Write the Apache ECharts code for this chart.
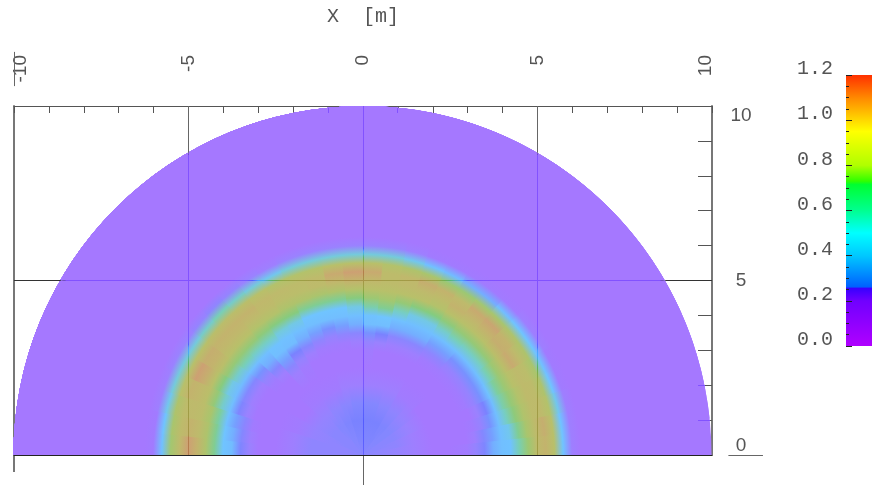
<!DOCTYPE html>
<html><head><meta charset="utf-8">
<style>html,body{margin:0;padding:0;background:#fff}#c{width:872px;height:486px}</style>
<script src="https://cdn.jsdelivr.net/npm/echarts@6/dist/echarts.min.js"></script>
</head><body><div id="c"></div>
<script>
// ---- data ----
const radii = [0,.5,1,1.5,2,2.5,3,3.25,3.5,3.75,4,4.25,4.5,4.75,5,5.25,5.5,5.75,6,6.25];
const wedgeAngles = [3,9,15,21,27,33,39,45,51,57,63,69,75,81,87,93,99,105,111,117,123,129,135,141,147,153,159,165,171,177];
const wedgeHalfWidth = 3;
const fieldRows = [
 [.26,.25,.24,.22,.20,.20,.21,.24,.28,.32,.35,.37,.47,.62,.78,.84,.72,.38,.22,.20],
 [.26,.25,.24,.22,.20,.20,.20,.22,.27,.31,.35,.40,.52,.66,.78,.86,.72,.38,.22,.20],
 [.26,.25,.25,.22,.20,.20,.20,.21,.24,.30,.34,.45,.58,.69,.78,.80,.70,.40,.22,.20],
 [.26,.26,.25,.22,.20,.20,.20,.20,.23,.29,.34,.48,.60,.70,.79,.78,.68,.38,.21,.20],
 [.26,.26,.26,.23,.20,.20,.20,.21,.24,.30,.36,.50,.62,.72,.80,.76,.66,.36,.21,.20],
 [.26,.26,.26,.23,.20,.20,.20,.21,.24,.30,.35,.47,.62,.74,.88,.80,.68,.38,.22,.20],
 [.26,.27,.27,.24,.20,.20,.20,.21,.24,.30,.34,.45,.60,.74,.86,.84,.68,.38,.22,.20],
 [.26,.27,.27,.24,.21,.20,.20,.21,.24,.30,.34,.45,.60,.72,.84,.90,.66,.34,.21,.20],
 [.26,.27,.28,.25,.21,.20,.20,.21,.25,.31,.35,.46,.60,.72,.83,.88,.64,.32,.21,.20],
 [.26,.28,.28,.25,.21,.20,.20,.21,.25,.31,.35,.44,.58,.72,.84,.80,.62,.32,.21,.20],
 [.26,.28,.29,.26,.22,.20,.20,.22,.26,.32,.35,.41,.55,.70,.78,.84,.62,.33,.21,.20],
 [.26,.28,.29,.26,.22,.20,.20,.22,.26,.32,.35,.41,.56,.72,.80,.86,.66,.36,.21,.20],
 [.26,.28,.29,.27,.22,.20,.20,.22,.26,.32,.36,.45,.60,.72,.80,.82,.68,.40,.22,.20],
 [.26,.28,.29,.27,.22,.20,.20,.23,.29,.34,.38,.52,.64,.72,.78,.78,.70,.42,.23,.20],
 [.26,.28,.29,.27,.22,.20,.21,.24,.30,.34,.37,.48,.62,.72,.82,.88,.72,.42,.23,.20],
 [.26,.28,.29,.27,.22,.20,.20,.22,.26,.32,.35,.41,.56,.70,.84,.92,.72,.42,.23,.20],
 [.26,.28,.29,.27,.22,.20,.20,.21,.25,.31,.34,.38,.52,.68,.82,.88,.72,.42,.23,.20],
 [.26,.28,.29,.26,.22,.20,.20,.21,.24,.30,.34,.38,.52,.67,.78,.80,.70,.42,.23,.20],
 [.26,.27,.28,.26,.21,.20,.20,.21,.25,.31,.34,.38,.52,.68,.76,.78,.70,.42,.23,.20],
 [.26,.27,.28,.25,.21,.20,.20,.22,.27,.32,.35,.41,.56,.68,.76,.80,.70,.40,.22,.20],
 [.26,.27,.27,.25,.21,.20,.21,.24,.29,.33,.36,.42,.56,.70,.78,.82,.72,.42,.23,.20],
 [.26,.26,.27,.24,.21,.20,.22,.26,.31,.34,.37,.45,.58,.70,.80,.84,.74,.44,.24,.20],
 [.26,.26,.26,.24,.21,.20,.20,.22,.27,.32,.35,.45,.60,.72,.82,.84,.76,.46,.25,.20],
 [.26,.26,.26,.24,.20,.20,.20,.21,.24,.30,.34,.46,.60,.72,.82,.84,.74,.44,.24,.20],
 [.26,.26,.26,.24,.20,.20,.20,.20,.22,.27,.33,.44,.60,.74,.84,.86,.72,.42,.23,.20],
 [.26,.26,.25,.24,.21,.20,.20,.20,.22,.27,.33,.41,.56,.72,.86,.92,.72,.42,.23,.20],
 [.26,.25,.25,.24,.21,.20,.20,.20,.23,.28,.34,.44,.60,.74,.82,.84,.72,.42,.22,.20],
 [.26,.25,.25,.25,.22,.20,.20,.21,.26,.31,.36,.50,.66,.76,.80,.78,.68,.40,.22,.20],
 [.26,.25,.25,.25,.22,.20,.20,.22,.27,.32,.38,.52,.68,.80,.84,.78,.66,.38,.21,.20],
 [.26,.25,.25,.25,.22,.20,.20,.23,.28,.33,.38,.52,.68,.84,.92,.80,.64,.36,.21,.20]
];
const discRadius = 10;
const minorXs = [-9,-8,-7,-6,-4,-3,-2,-1,1,2,3,4,6,7,8,9];
const minorYs = [1,2,3,4,6,7,8,9];
const barMax = 1.2;
// value -> shade of the disc as it looks in the picture
const discScale = [[.20,[165,120,255]],[.23,[154,130,255]],[.27,[132,135,255]],[.29,[122,130,255]],[.33,[114,188,255]],[.38,[112,196,255]],[.46,[120,207,184]],[.55,[132,204,128]],[.65,[166,198,110]],[.72,[184,192,106]],[.82,[192,184,108]],[.92,[205,160,115]]];
// colour bar, as drawn
const barStops = [[0,'#b000ff'],[.2,'#7000ff'],[.255,'#3800ff'],[.262,'#0060ff'],[.4,'#00c8ff'],[.5,'#00ffff'],[.6,'#00ff90'],[.715,'#00ff30'],[.73,'#30ff00'],[.8,'#b0ff00'],[.95,'#ffff00'],[1,'#ffd800'],[1.1,'#ff8800'],[1.2,'#ff3000']];

const mono = 'Liberation Mono', sans = 'Liberation Sans', ink = '#555';
function shadeRGB(v){
  const s = discScale;
  if (v <= s[0][0]) return s[0][1];
  for (let i=1;i<s.length;i++) if (v <= s[i][0]) {
    const t=(v-s[i-1][0])/(s[i][0]-s[i-1][0]);
    return s[i][1].map((c,k)=>Math.round(s[i-1][1][k]+(c-s[i-1][1][k])*t));
  }
  return s[s.length-1][1];
}
const shade = v => `rgb(${shadeRGB(v)})`;
// colour a grid line takes where it runs under the disc
function lineShade(x,y){
  const r=Math.hypot(x,y);
  if (r>discRadius) return 'rgba(0,0,0,0)';
  const row=fieldRows[Math.max(0,Math.min(wedgeAngles.length-1,Math.floor(Math.atan2(y,x)*180/Math.PI/(2*wedgeHalfWidth))))];
  let v=row[radii.length-1];
  for(let k=1;k<radii.length;k++) if(r<=radii[k]){v=row[k-1]+(row[k]-row[k-1])*(r-radii[k-1])/(radii[k]-radii[k-1]);break;}
  return `rgb(${shadeRGB(v).map(c=>{const b=c/255;return Math.round(255*(b-.6*b*(1-b)));})})`;
}
const segments = [];
[-5,0,5].forEach(x=>segments.push([x,0,x,10]));
segments.push([-10,5,10,5]);
minorXs.forEach(x=>segments.push([x,9.8,x,10]));
minorYs.forEach(y=>segments.push([9.6,y,10,y]));
const stubs = [[-10,0,-10,-.49,'#777',2],[0,0,0,-.86,'#666',1],[-10,10.57,-10,11.55,'#666',1],[10.47,0,11.46,0,'#666',1],
  [-5,8.66,-5,10,'#666',1],[5,8.66,5,10,'#666',1],[-10,5,-8.66,5,'#333',1],[8.66,5,10,5,'#333',1]];
const snap = p => Math.floor(p)+.5;
const segRender = (params,api)=>{
  const v=[0,1,2,3].map(k=>api.value(k));
  const a=api.coord([v[0],v[1]]), b=api.coord([v[2],v[3]]);
  const i=params.dataIndex;
  let st;
  if (params.seriesName==='stubs') {
    st={stroke:stubs[i][4],lineWidth:stubs[i][5],fill:null};
    if (stubs[i][5]!==1) return {type:'line',shape:{x1:a[0],y1:a[1],x2:b[0],y2:b[1]},style:st,silent:true};
  } else {
    const n=120,stops=[];
    for(let t=0;t<=n;t++) stops.push({offset:t/n,color:lineShade(v[0]+(v[2]-v[0])*t/n,v[1]+(v[3]-v[1])*t/n)});
    st={stroke:new echarts.graphic.LinearGradient(a[0],a[1],b[0],b[1],stops,true),lineWidth:1,fill:null};
  }
  const vertical=v[0]===v[2];
  const shape=vertical?{x1:snap(a[0]),y1:a[1],x2:snap(b[0]),y2:b[1]}:{x1:a[0],y1:snap(a[1]),x2:b[0],y2:snap(b[1])};
  return {type:'line',shape,style:st,silent:true};
};
const option = {
  animation:false,
  polar:{center:[362.5,455],radius:349},
  angleAxis:{type:'value',min:0,max:360,startAngle:0,clockwise:false,show:false},
  radiusAxis:{type:'value',min:0,max:discRadius,show:false},
  grid:[{left:14,width:698,top:106,height:349,outerBoundsMode:'none'},{left:846,width:26,top:75,height:271,outerBoundsMode:'none'}],
  xAxis:[
   {gridIndex:0,type:'value',position:'top',min:-10,max:10,interval:5,
    name:'X  [m]',nameLocation:'middle',nameGap:79,nameTextStyle:{fontFamily:mono,fontSize:20,color:ink},
    axisLine:{show:true,onZero:false,lineStyle:{color:'#555',width:1}},
    axisTick:{show:true,inside:true,length:7,lineStyle:{color:'#555'}},
    minorTick:{show:true,splitNumber:5,length:7,lineStyle:{color:'#555'}},
    splitLine:{show:false},
    axisLabel:{show:true,rotate:-90,align:'right',verticalAlign:'middle',margin:51,fontFamily:sans,fontSize:19,color:ink,hideOverlap:false,
      showMinLabel:true,showMaxLabel:true,
      rich:{a:{fontFamily:sans,fontSize:19,color:ink,padding:[0,0,12,0]},b:{fontFamily:sans,fontSize:19,color:ink,padding:[14,0,0,0]}},
      formatter:v=>v===10?'{a|10}':v===-10?'{b|-10}':String(v)}},
   {gridIndex:0,type:'value',position:'bottom',min:-10,max:10,interval:5,z:10,
    axisLine:{show:true,onZero:false,lineStyle:{color:'#222',width:1}},axisTick:{show:false},axisLabel:{show:false},splitLine:{show:false}},
   {gridIndex:1,type:'category',data:[''],show:false}
  ],
  yAxis:[
   {gridIndex:0,type:'value',position:'right',min:0,max:10,interval:5,
    axisLine:{show:true,onZero:false,lineStyle:{color:'#777',width:2}},
    axisTick:{show:true,inside:true,length:14,lineStyle:{color:'#555'}},
    minorTick:{show:true,splitNumber:5,length:14,lineStyle:{color:'#555'}},
    splitLine:{show:false},
    axisLabel:{show:true,align:'center',margin:29,fontFamily:sans,fontSize:19,color:ink,verticalAlignMaxLabel:'top',verticalAlignMinLabel:'bottom'}},
   {gridIndex:0,type:'value',position:'left',min:0,max:10,interval:5,
    axisLine:{show:true,onZero:false,lineStyle:{color:'#777',width:2}},axisTick:{show:false},axisLabel:{show:false},splitLine:{show:false}},
   {gridIndex:1,type:'value',position:'left',min:0,max:barMax,interval:.2,z:10,
    axisLine:{show:false},
    axisTick:{show:true,inside:true,length:6,lineStyle:{color:'#222'}},
    minorTick:{show:true,splitNumber:4,length:3,lineStyle:{color:'#222'}},
    splitLine:{show:false},
    axisLabel:{show:true,margin:13,fontFamily:mono,fontSize:20,color:ink,verticalAlign:'bottom',lineHeight:12,formatter:v=>v.toFixed(1)}}
  ],
  series:[
   {type:'custom',name:'disc',coordinateSystem:'polar',z:3,silent:true,clip:false,
    data:wedgeAngles.map(a=>[discRadius,a]),encode:{radius:0,angle:1},
    renderItem:(params,api)=>{
      const i=params.dataIndex,a=wedgeAngles[i];
      const c=api.coord([0,0]),e=api.coord([discRadius,0]);
      const R=Math.hypot(e[0]-c[0],e[1]-c[1]);
      const stops=radii.map((r,k)=>({offset:r/discRadius,color:shade(fieldRows[i][k])}));
      stops.push({offset:1,color:shade(fieldRows[i][radii.length-1])});
      // every wedge runs on to the far end; the next one paints over it, so no seams show
      const a1=(a-wedgeHalfWidth)*Math.PI/180,a2=Math.PI;
      return {type:'sector',shape:{cx:c[0],cy:c[1],r0:0,r:R,startAngle:-a2,endAngle:-a1,clockwise:true},
        style:{fill:new echarts.graphic.RadialGradient(c[0],c[1],R,stops,true),stroke:null}};
    }},
   {type:'custom',name:'overlay',coordinateSystem:'cartesian2d',xAxisIndex:0,yAxisIndex:0,z:6,silent:true,
    data:segments,encode:{x:[0,2],y:[1,3]},renderItem:segRender},
   {type:'custom',name:'stubs',coordinateSystem:'cartesian2d',xAxisIndex:0,yAxisIndex:0,z:6,silent:true,clip:false,
    data:stubs.map(s=>s.slice(0,4)),encode:{x:[0,2],y:[1,3]},renderItem:segRender},
   {type:'bar',name:'bar',xAxisIndex:2,yAxisIndex:2,barWidth:'100%',silent:true,z:2,data:[barMax],
    itemStyle:{color:new echarts.graphic.LinearGradient(0,1,0,0,barStops.map(s=>({offset:s[0]/barMax,color:s[1]})))}}
  ]
};
const chart = echarts.init(document.getElementById('c'),null,{renderer:'canvas'});
chart.setOption(option);
</script></body></html>
